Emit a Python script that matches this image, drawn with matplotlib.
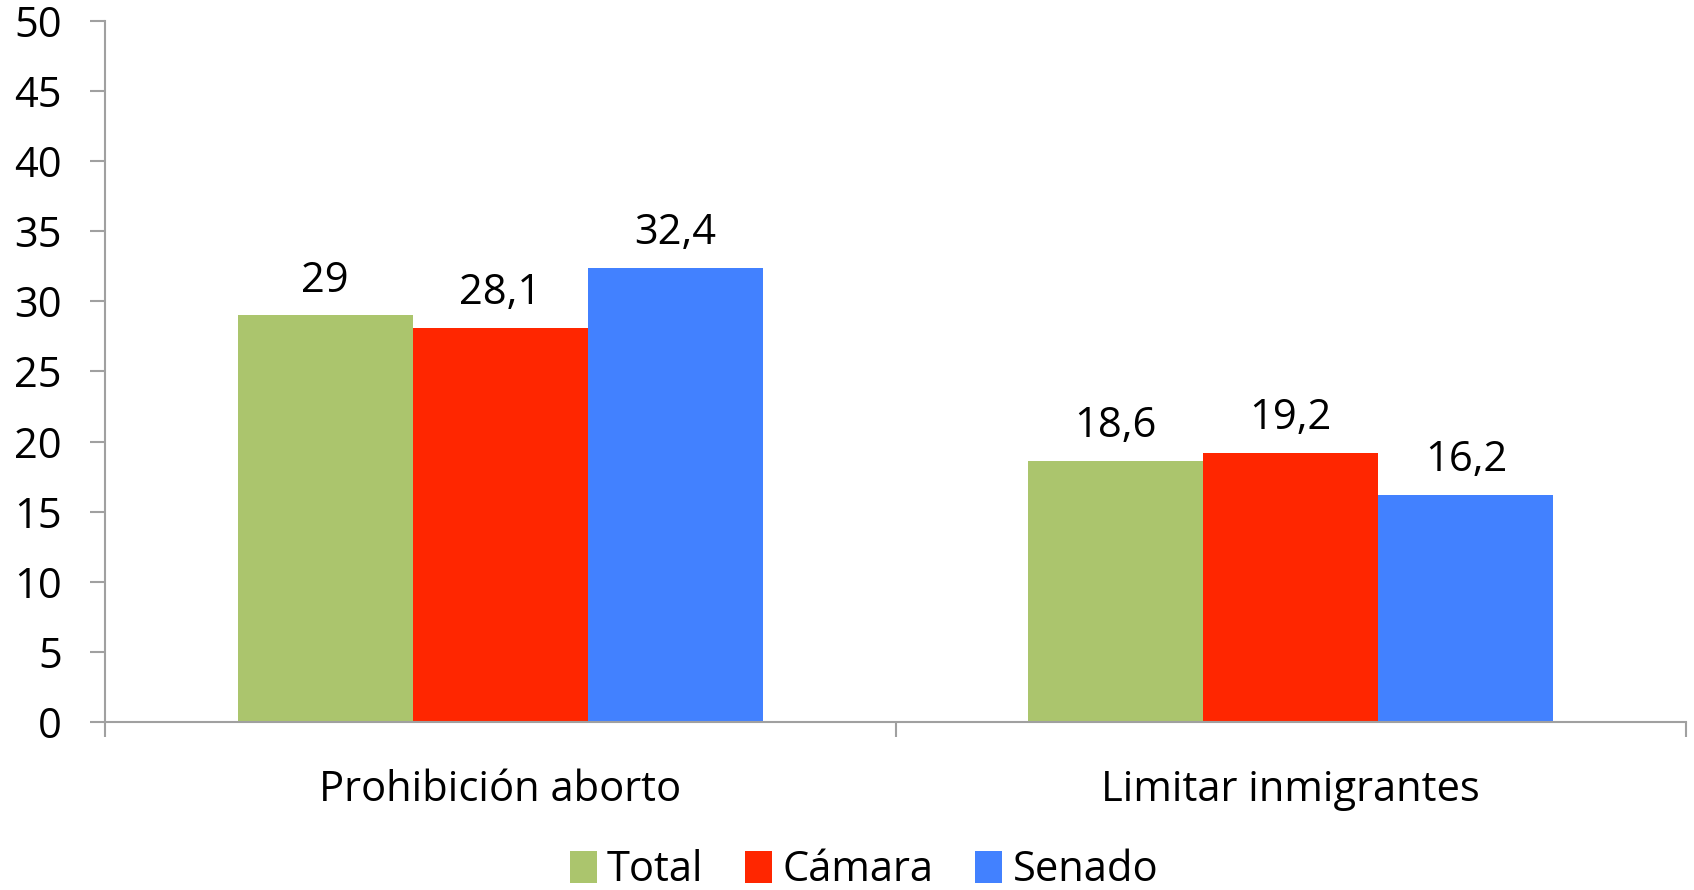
import matplotlib
matplotlib.use("Agg")
import matplotlib.pyplot as plt
import numpy as np

plt.rcParams['font.family'] = ['Open Sans', 'DejaVu Sans']

categories = ["Prohibición aborto", "Limitar inmigrantes"]
series_names = ["Total", "Cámara", "Senado"]
total = [29, 18.6]
camara = [28.1, 19.2]
senado = [32.4, 16.2]
colors = ["#ABC56D", "#FF2600", "#4281FF"]
y_ticks = list(range(0, 55, 5))

fig = plt.figure(figsize=(16.94, 8.9), dpi=100)
ax = fig.add_axes([0.062, 0.1888, 0.9333, 0.7876])

x = np.arange(len(categories))
width = 0.2215
grey = "#A0A0A0"
fs = 30

# bars + value labels
for i, (name, vals) in enumerate(zip(series_names, [total, camara, senado])):
    bars = ax.bar(x + (i - 1) * width, vals, width, color=colors[i], label=name, zorder=2)
    for b, v in zip(bars, vals):
        ax.annotate(str(v).replace(".", ","), (b.get_x() + b.get_width() / 2, v),
                    xytext=(0, 10), textcoords="offset points",
                    ha="center", va="bottom", fontsize=fs)

ax.set_xlim(-0.5, 1.5)
ax.set_ylim(0, 50)
ax.set_yticks(y_ticks)
ax.set_yticklabels([str(t) for t in y_ticks], fontsize=fs)
ax.set_xticks([-0.5, 0.5, 1.5])
ax.set_xticklabels([])
ax.set_xticks(x, minor=True)
ax.set_xticklabels(categories, minor=True, fontsize=fs)
ax.tick_params(axis="x", which="minor", length=0, pad=34)
ax.tick_params(axis="x", which="major", length=11, width=1.5, color=grey)
ax.tick_params(axis="y", length=11, width=1.5, color=grey, pad=20)

for side in ["top", "right"]:
    ax.spines[side].set_visible(False)
for side in ["left", "bottom"]:
    ax.spines[side].set_color(grey)
    ax.spines[side].set_linewidth(1.5)

fig.legend(loc="center", bbox_to_anchor=(0.51, 0.022), ncol=3, frameon=False,
           fontsize=fs, handlelength=0.65, handleheight=0.8, handletextpad=0.25,
           columnspacing=1.0)

fig.savefig("out.png", dpi=100)
